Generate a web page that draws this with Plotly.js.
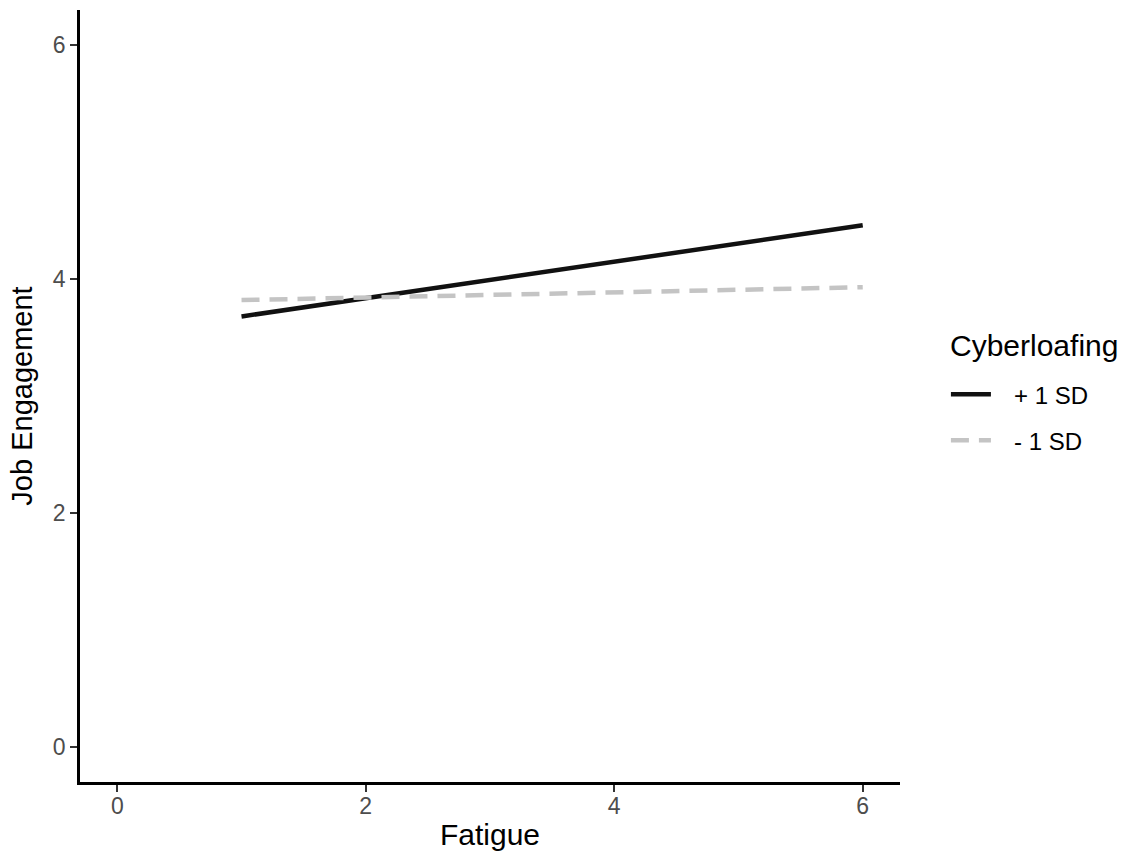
<!DOCTYPE html>
<html>
<head>
<meta charset="utf-8">
<script src="https://cdn.plot.ly/plotly-3.0.1.min.js"></script>
<style>html,body{margin:0;padding:0;background:#fff;}#chart{width:1134px;height:858px;}</style>
</head>
<body>
<div id="chart"></div>
<script>
const fatigue = [1, 6];
const plusSD = [3.68, 4.46];
const minusSD = [3.82, 3.93];
const seriesNames = ["+ 1 SD", "- 1 SD"];
const legendTitle = "Cyberloafing";
const tickVals = [0, 2, 4, 6];

const font = "Liberation Sans, Arial, sans-serif";
const pad = "\u00a0\u00a0\u2009";
const traces = [
  {x: fatigue, y: plusSD, name: pad + seriesNames[0], legendgroup: "p", mode: "lines", type: "scatter",
   line: {color: "#111111", width: 4.5}},
  {x: fatigue, y: minusSD, name: pad + seriesNames[1], legendgroup: "m", mode: "lines", type: "scatter",
   line: {color: "#c4c4c4", width: 4.5, dash: "18px,10px"}}
];
const axisCommon = {
  showgrid: false, zeroline: false, showline: true, linecolor: "#000", linewidth: 2.5,
  ticks: "outside", ticklen: 7, tickwidth: 2, tickcolor: "#333",
  tickvals: tickVals, tickfont: {family: font, size: 23, color: "#4d4d4d"}
};
const layout = {
  width: 1134, height: 858,
  paper_bgcolor: "#fff", plot_bgcolor: "#fff",
  margin: {l: 80, r: 234, t: 10, b: 76},
  xaxis: Object.assign({}, axisCommon, {range: [-0.3, 6.3], ticklabelstandoff: -5,
    title: {text: "Fatigue", font: {family: font, size: 30, color: "#000"}, standoff: 6}}),
  yaxis: Object.assign({}, axisCommon, {range: [-0.3, 6.3],
    title: {text: "Job Engagement", font: {family: font, size: 29, color: "#000"}, standoff: 12}}),
  showlegend: true,
  legend: {x: 1.056, y: 0.531, xanchor: "left", yanchor: "top",
    font: {family: font, size: 24, color: "#000"}, tracegroupgap: 12, itemwidth: 40},
  annotations: [{text: legendTitle, xref: "paper", yref: "paper", x: 1.0585, y: 0.565,
    xanchor: "left", yanchor: "middle", showarrow: false,
    font: {family: font, size: 30, color: "#000"}}]
};
Plotly.newPlot("chart", traces, layout, {displayModeBar: false});
</script>
</body>
</html>
